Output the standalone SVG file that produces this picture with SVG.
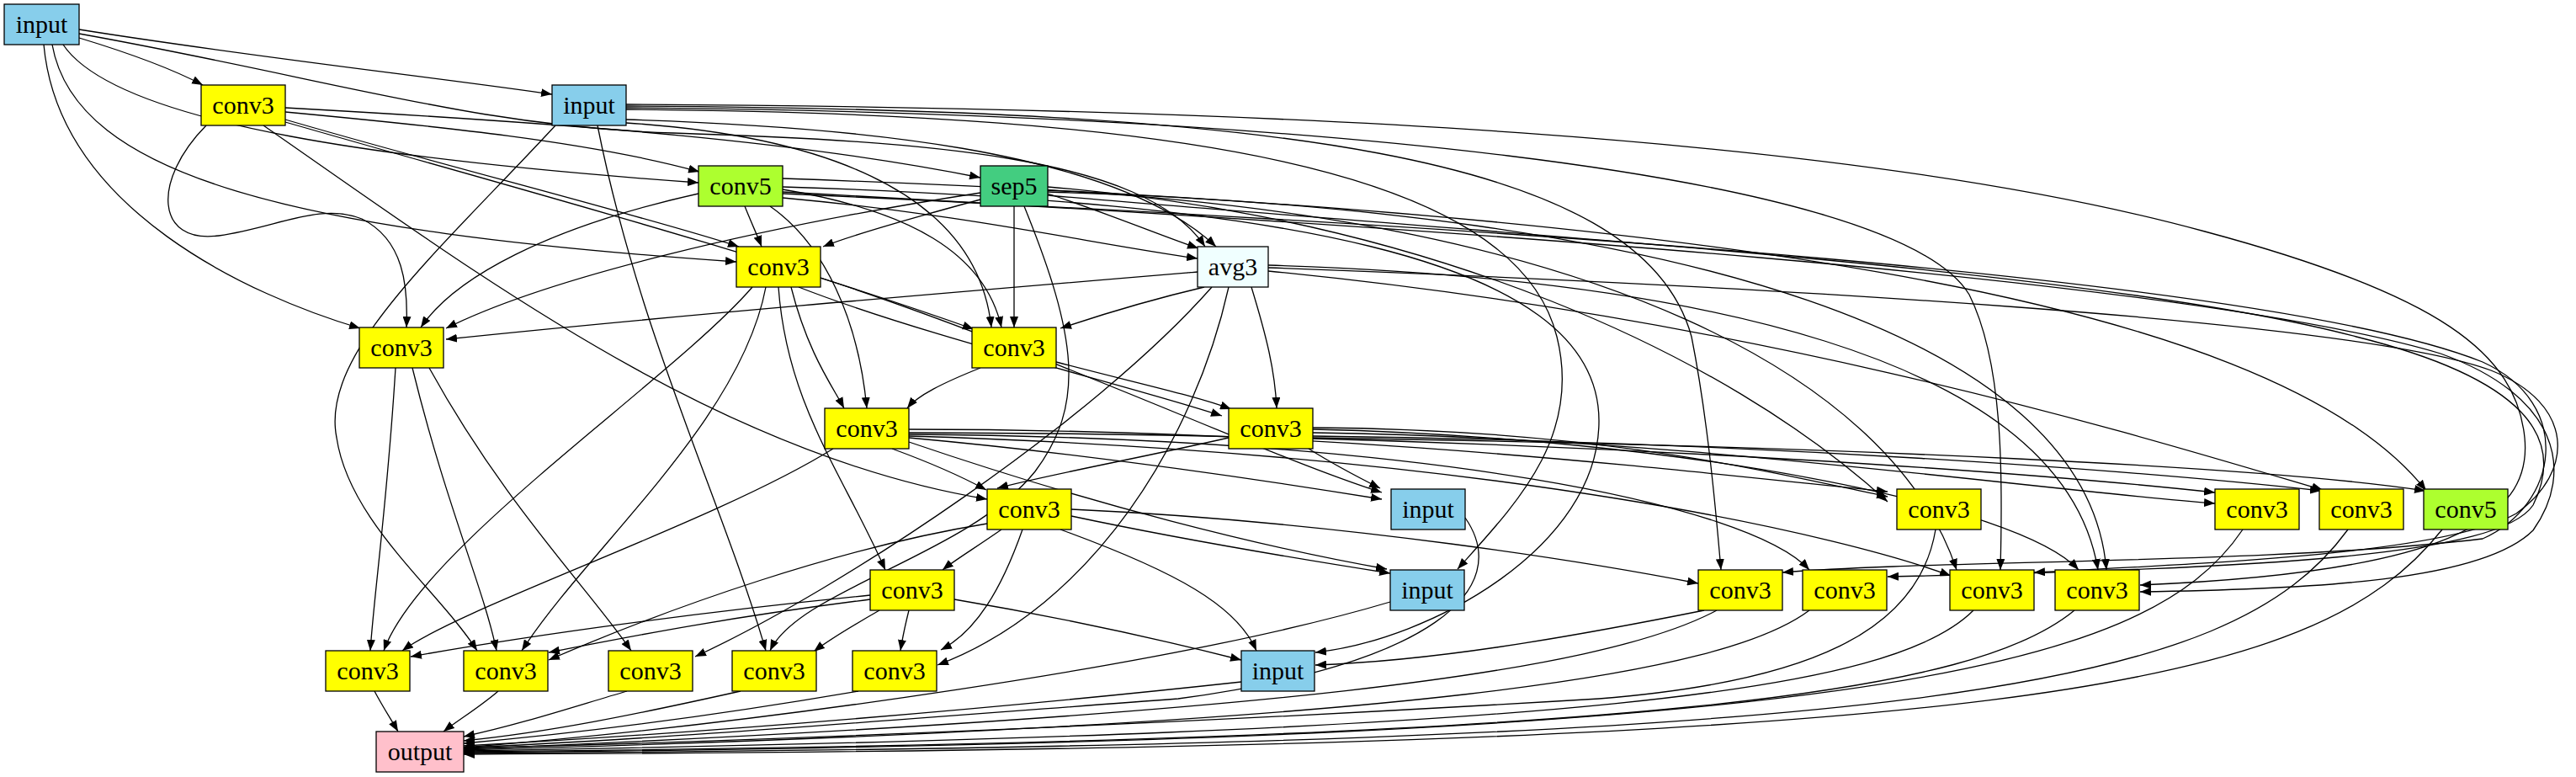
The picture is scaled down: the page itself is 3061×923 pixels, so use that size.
<svg xmlns="http://www.w3.org/2000/svg" width="3061" height="923" viewBox="0 0 3061 923">
<style>
.e{fill:none;stroke:#000;stroke-width:1.3;marker-end:url(#arr)}
.n rect{stroke:#000;stroke-width:1.3}
.n text{font-family:"Liberation Serif","Times New Roman",serif;font-size:30px;text-anchor:middle;fill:#000}
.inp rect{fill:#87ceeb}.c3 rect{fill:#ffff00}.c5 rect{fill:#adff2f}.sp rect{fill:#43cd80}.av rect{fill:#f0ffff}.out rect{fill:#ffc0cb}
</style>
<defs>
<marker id="arr" viewBox="0 0 13 10" refX="13" refY="5" markerWidth="13" markerHeight="10" markerUnits="userSpaceOnUse" orient="auto"><path d="M0,0L13,5L0,10z" fill="#000"/></marker>
</defs>
<rect width="3061" height="923" fill="#fff"/>
<g id="connectors">
<path class="e" d="M94,45 C160,65 205,82 241,101"/>
<path class="e" d="M94,35 C300,68 520,92 656,112"/>
<path class="e" d="M75,53 C140,150 480,192 830,217"/>
<path class="e" d="M62,53 C90,210 350,275 875,311"/>
<path class="e" d="M52,53 C70,250 300,352 428,390"/>
<path class="e" d="M94,40 C400,95 560,150 800,158 C1100,168 1360,185 1432,293"/>
<path class="e" d="M339,133 C520,150 700,168 831,204"/>
<path class="e" d="M339,128 C700,148 950,168 1165,211"/>
<path class="e" d="M339,142 C520,195 760,255 878,293"/>
<path class="e" d="M245,149 C180,215 185,290 260,280 C330,270 380,240 430,260 C480,285 485,340 483,389"/>
<path class="e" d="M339,145 C600,220 900,300 1157,391"/>
<path class="e" d="M313,149 C560,320 850,540 1173,593"/>
<path class="e" d="M744,142 C1000,150 1320,175 1445,293"/>
<path class="e" d="M744,146 C960,160 1160,220 1178,389"/>
<path class="e" d="M660,149 C520,300 380,420 400,520 C415,620 520,700 567,773"/>
<path class="e" d="M710,149 C760,400 860,600 910,773"/>
<path class="e" d="M744,126 C1500,130 1950,180 2010,400 C2030,500 2040,620 2045,677"/>
<path class="e" d="M744,128 C1500,134 2250,200 2340,350 C2380,430 2380,560 2377,677"/>
<path class="e" d="M744,124 C1500,128 2200,160 2620,275 C2900,350 2990,420 3000,520 C3010,620 2900,680 2543,695"/>
<path class="e" d="M744,130 C1400,135 1800,200 1850,400 C1880,520 1800,600 1732,676"/>
<path class="e" d="M885,245 C893,265 900,280 905,293"/>
<path class="e" d="M930,235 C1150,255 1300,290 1423,307"/>
<path class="e" d="M830,230 C650,270 540,330 500,389"/>
<path class="e" d="M930,225 C1080,250 1170,300 1190,389"/>
<path class="e" d="M915,245 C980,290 1020,380 1030,485"/>
<path class="e" d="M930,212 C2000,250 2700,350 2883,583"/>
<path class="e" d="M930,230 C1800,270 2700,330 2950,430 C3060,480 3040,600 2950,640 C2700,670 2300,665 2118,680"/>
<path class="e" d="M930,228 C1700,270 2600,330 2900,420 C3040,470 3060,560 3010,630 C2950,690 2750,700 2543,703"/>
<path class="e" d="M930,222 C1500,240 1900,300 1900,500 C1900,650 1700,760 1563,775"/>
<path class="e" d="M1165,237 C1080,260 1010,280 978,293"/>
<path class="e" d="M1245,230 C1320,255 1380,280 1424,295"/>
<path class="e" d="M1165,229 C900,270 650,330 530,390"/>
<path class="e" d="M1205,245 L1205,389"/>
<path class="e" d="M1217,245 C1280,400 1290,480 1230,560 C1150,660 950,700 915,773"/>
<path class="e" d="M1245,222 C1700,260 2050,420 2243,596"/>
<path class="e" d="M1245,232 C1800,280 2500,320 2800,400 C3000,450 3050,520 3010,600 C2970,660 2700,675 2243,685"/>
<path class="e" d="M1245,226 C1900,260 2250,450 2325,677"/>
<path class="e" d="M1245,228 C2000,250 2480,400 2503,677"/>
<path class="e" d="M940,341 C960,420 990,460 1003,485"/>
<path class="e" d="M949,341 C1100,400 1350,460 1452,494"/>
<path class="e" d="M975,330 C1250,420 1500,540 1642,585"/>
<path class="e" d="M925,341 C935,480 1000,560 1052,677"/>
<path class="e" d="M894,341 C800,450 500,650 456,773"/>
<path class="e" d="M910,341 C880,500 700,650 620,773"/>
<path class="e" d="M1423,323 C1100,350 800,375 530,403"/>
<path class="e" d="M1431,341 C1350,360 1290,380 1260,390"/>
<path class="e" d="M1487,341 C1505,400 1515,440 1517,485"/>
<path class="e" d="M1507,322 C2100,380 2550,520 2760,582"/>
<path class="e" d="M1507,318 C2100,340 2800,380 2960,440 C3060,480 3060,560 2990,610 C2900,660 2600,670 2417,680"/>
<path class="e" d="M1507,315 C2000,330 2450,420 2493,677"/>
<path class="e" d="M1440,341 C1300,500 1000,700 826,780"/>
<path class="e" d="M1460,341 C1420,520 1300,720 1114,790"/>
<path class="e" d="M470,437 C460,600 445,700 440,773"/>
<path class="e" d="M490,437 C530,600 575,700 590,773"/>
<path class="e" d="M510,437 C600,600 700,700 750,773"/>
<path class="e" d="M1165,437 C1120,455 1090,470 1078,485"/>
<path class="e" d="M1255,430 C1350,455 1420,470 1463,486"/>
<path class="e" d="M1060,533 C1120,555 1150,570 1172,582"/>
<path class="e" d="M1080,520 C1300,540 1500,570 1642,593"/>
<path class="e" d="M1080,525 C1300,600 1500,650 1648,676"/>
<path class="e" d="M990,533 C850,620 550,720 478,773"/>
<path class="e" d="M1080,510 C1600,510 2000,560 2243,584"/>
<path class="e" d="M1080,514 C1800,515 2400,560 2632,585"/>
<path class="e" d="M1080,516 C1700,520 2080,600 2150,677"/>
<path class="e" d="M1080,518 C1800,540 2200,640 2318,684"/>
<path class="e" d="M1460,520 C1350,545 1240,565 1185,580"/>
<path class="e" d="M1555,533 C1590,555 1620,570 1640,580"/>
<path class="e" d="M1560,508 C1900,510 2100,560 2243,590"/>
<path class="e" d="M1560,514 C2000,520 2400,580 2632,598"/>
<path class="e" d="M1560,518 C2100,525 2550,560 2758,583"/>
<path class="e" d="M1560,520 C2200,530 2700,555 2882,583"/>
<path class="e" d="M1560,510 C2000,520 2400,600 2470,677"/>
<path class="e" d="M1190,629 C1160,650 1135,665 1120,677"/>
<path class="e" d="M1273,613 C1400,640 1550,665 1652,681"/>
<path class="e" d="M1273,605 C1600,620 1900,670 2018,693"/>
<path class="e" d="M1173,622 C1000,650 800,720 652,784"/>
<path class="e" d="M1215,629 C1190,700 1160,750 1118,772"/>
<path class="e" d="M1260,629 C1400,680 1470,720 1493,773"/>
<path class="e" d="M1034,707 C800,730 600,760 488,780"/>
<path class="e" d="M1034,712 C850,735 730,760 652,775"/>
<path class="e" d="M1045,725 C1010,745 985,760 967,774"/>
<path class="e" d="M1080,725 C1075,745 1072,760 1070,773"/>
<path class="e" d="M1134,712 C1300,740 1420,770 1475,784"/>
<path class="e" d="M2025,725 C1850,760 1700,785 1563,790"/>
<path class="e" d="M445,821 C455,840 465,855 473,869"/>
<path class="e" d="M592,821 C570,840 545,855 527,869"/>
<path class="e" d="M745,821 C680,840 620,860 551,875"/>
<path class="e" d="M880,821 C750,850 650,870 551,880"/>
<path class="e" d="M1020,821 C850,850 700,870 551,883"/>
<path class="e" d="M1475,810 C1200,840 850,870 551,886"/>
<path class="e" d="M1741,615 C1800,700 1700,790 1400,830 C1000,860 750,880 551,888"/>
<path class="e" d="M1652,715 C1400,790 900,860 551,888"/>
<path class="e" d="M2300,629 C2280,750 2150,810 1900,830 C1400,860 900,880 551,889"/>
<path class="e" d="M2040,725 C1900,800 1500,850 551,890"/>
<path class="e" d="M2150,725 C2050,800 1700,860 551,891"/>
<path class="e" d="M2345,725 C2250,820 1900,870 551,892"/>
<path class="e" d="M2465,725 C2350,820 2000,880 551,893"/>
<path class="e" d="M2665,629 C2550,800 2200,880 551,894"/>
<path class="e" d="M2790,629 C2650,820 2300,885 551,895"/>
<path class="e" d="M2902,629 C2750,820 2400,890 551,896"/>
</g>
<g id="nA" class="n inp"><rect x="5" y="5" width="89" height="48"/><text x="49.5" y="39">input</text></g>
<g id="nB" class="n c3"><rect x="239" y="101" width="100" height="48"/><text x="289" y="135">conv3</text></g>
<g id="nC" class="n inp"><rect x="656" y="101" width="88" height="48"/><text x="700" y="135">input</text></g>
<g id="nD" class="n c5"><rect x="830" y="197" width="100" height="48"/><text x="880" y="231">conv5</text></g>
<g id="nE" class="n sp"><rect x="1165" y="197" width="80" height="48"/><text x="1205" y="231">sep5</text></g>
<g id="nF" class="n c3"><rect x="875" y="293" width="100" height="48"/><text x="925" y="327">conv3</text></g>
<g id="nG" class="n av"><rect x="1423" y="293" width="84" height="48"/><text x="1465" y="327">avg3</text></g>
<g id="nH" class="n c3"><rect x="427" y="389" width="100" height="48"/><text x="477" y="423">conv3</text></g>
<g id="nI" class="n c3"><rect x="1155" y="389" width="100" height="48"/><text x="1205" y="423">conv3</text></g>
<g id="nJ" class="n c3"><rect x="980" y="485" width="100" height="48"/><text x="1030" y="519">conv3</text></g>
<g id="nK" class="n c3"><rect x="1460" y="485" width="100" height="48"/><text x="1510" y="519">conv3</text></g>
<g id="nL" class="n c3"><rect x="1173" y="581" width="100" height="48"/><text x="1223" y="615">conv3</text></g>
<g id="nM" class="n inp"><rect x="1653" y="581" width="88" height="48"/><text x="1697" y="615">input</text></g>
<g id="nN" class="n c3"><rect x="2254" y="581" width="100" height="48"/><text x="2304" y="615">conv3</text></g>
<g id="nO" class="n c3"><rect x="2632" y="581" width="100" height="48"/><text x="2682" y="615">conv3</text></g>
<g id="nP" class="n c3"><rect x="2756" y="581" width="100" height="48"/><text x="2806" y="615">conv3</text></g>
<g id="nQ" class="n c5"><rect x="2880" y="581" width="100" height="48"/><text x="2930" y="615">conv5</text></g>
<g id="nR" class="n c3"><rect x="1034" y="677" width="100" height="48"/><text x="1084" y="711">conv3</text></g>
<g id="nS" class="n inp"><rect x="1652" y="677" width="88" height="48"/><text x="1696" y="711">input</text></g>
<g id="nT" class="n c3"><rect x="2018" y="677" width="100" height="48"/><text x="2068" y="711">conv3</text></g>
<g id="nU" class="n c3"><rect x="2142" y="677" width="100" height="48"/><text x="2192" y="711">conv3</text></g>
<g id="nV" class="n c3"><rect x="2317" y="677" width="100" height="48"/><text x="2367" y="711">conv3</text></g>
<g id="nW" class="n c3"><rect x="2442" y="677" width="100" height="48"/><text x="2492" y="711">conv3</text></g>
<g id="nX" class="n c3"><rect x="387" y="773" width="100" height="48"/><text x="437" y="807">conv3</text></g>
<g id="nY" class="n c3"><rect x="551" y="773" width="100" height="48"/><text x="601" y="807">conv3</text></g>
<g id="nZ" class="n c3"><rect x="723" y="773" width="100" height="48"/><text x="773" y="807">conv3</text></g>
<g id="nAA" class="n c3"><rect x="870" y="773" width="100" height="48"/><text x="920" y="807">conv3</text></g>
<g id="nAB" class="n c3"><rect x="1013" y="773" width="100" height="48"/><text x="1063" y="807">conv3</text></g>
<g id="nAC" class="n inp"><rect x="1475" y="773" width="87" height="48"/><text x="1518.5" y="807">input</text></g>
<g id="nOUT" class="n out"><rect x="447" y="869" width="104" height="48"/><text x="499" y="903">output</text></g>
</svg>
